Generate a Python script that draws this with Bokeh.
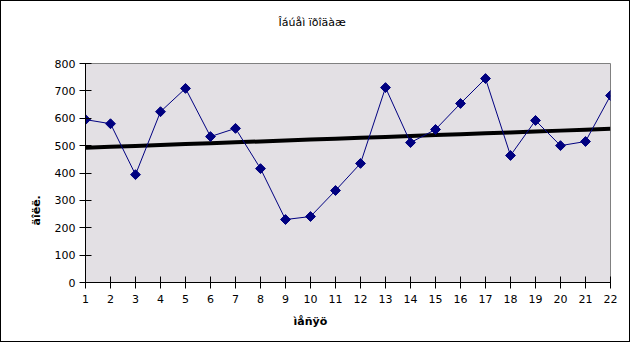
import numpy as np
from bokeh.plotting import figure
from bokeh.models import Range1d, FixedTicker, Title
from bokeh.embed import file_html
from bokeh.resources import INLINE

months = list(range(1, 23))
sales = [595, 580, 394, 624, 709, 533, 563, 416, 230, 241, 336, 435,
         712, 511, 559, 654, 745, 464, 592, 500, 515, 683]
y_ticks = [0, 100, 200, 300, 400, 500, 600, 700, 800]
title_text = "Îáúåì ïðîäàæ"
x_label = "ìåñÿö"
y_label = "äîëë."

FRAME_W, FRAME_H = 525, 219
TOP, LEFT, RIGHT, BOTTOM = 62, 84, 19, 59

p = figure(output_backend="svg", toolbar_location=None,
           x_range=Range1d(1, 22), y_range=Range1d(0, 800),
           frame_width=FRAME_W, frame_height=FRAME_H,
           min_border_left=LEFT, min_border_right=RIGHT, min_border_top=TOP,
           min_border_bottom=BOTTOM)
p.styles = {"border": "1px solid black"}

p.background_fill_color = "#E3E0E4"
p.border_fill_color = "white"
p.outline_line_color = "#808080"
p.outline_line_width = 1
p.grid.visible = False

for ax in (p.xaxis[0], p.yaxis[0]):
    ax.axis_line_color = "black"
    ax.major_tick_line_color = "black"
    ax.major_tick_in = 6
    ax.major_tick_out = 6
    ax.minor_tick_line_color = None
    ax.major_label_text_font = "DejaVu Sans"
    ax.major_label_text_font_size = "11px"
    ax.major_label_text_color = "black"

p.xaxis.ticker = FixedTicker(ticks=months)
p.yaxis.ticker = FixedTicker(ticks=y_ticks)
p.xaxis.major_label_standoff = 6
p.yaxis.major_label_standoff = 4

label_style = dict(align="left", text_font="DejaVu Sans",
                   text_font_size="11px", text_font_style="bold",
                   text_color="black")
# axis titles, placed to centre on the whole chart like the original
p.add_layout(Title(text=x_label, offset=208, standoff=15, **label_style), "below")
p.add_layout(Title(text=y_label, offset=57, standoff=17, **label_style), "left")

# chart title with a blank spacer between it and the frame
spacer = Title(text=" ", text_font_size="30px", standoff=0)
title = Title(text=title_text, align="left", offset=193,
              text_font="DejaVu Sans", text_font_size="11px",
              text_font_style="normal", text_color="black", standoff=0)
p.add_layout(spacer, "above")
p.add_layout(title, "above")

# trend line (least squares from the data)
coef = np.polyfit(months, sales, 1)
trend = [coef[0] * m + coef[1] for m in months]
p.line(months, trend, line_color="black", line_width=4)

p.line(months, sales, line_color="#000080", line_width=1)
p.scatter(months, sales, marker="square", angle=np.pi / 4, size=7,
          fill_color="#000080", line_color="#000080")

open("out.html", "w").write(file_html(p, INLINE))
